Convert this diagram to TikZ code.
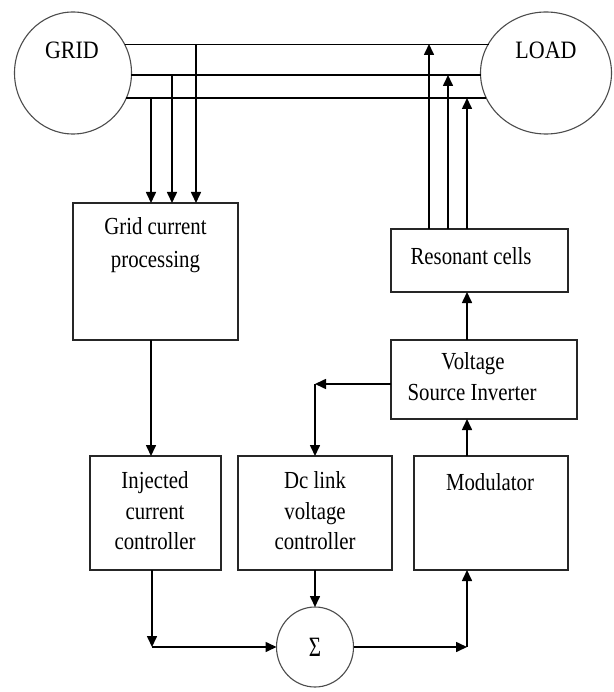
\documentclass[tikz,border=0pt]{standalone}
\usepackage{fontspec}
\setmainfont{Liberation Serif}
\usetikzlibrary{arrows.meta,shapes.geometric}
\begin{document}
\begin{tikzpicture}[x=1pt,y=-1pt,
  conn/.style={line width=1.6pt,-{Triangle[length=11pt,width=10pt]}},
  wire/.style={line width=1.6pt},
  blk/.style={draw=black!85,line width=1.8pt,rectangle,inner sep=0pt,outer sep=0pt},
  src/.style={draw=black!70,line width=1.1pt,ellipse,inner sep=0pt,outer sep=0pt},
  txt/.style={font=\fontsize{24.5}{30}\selectfont,anchor=base,inner sep=0pt,xscale=0.85},
  bigtxt/.style={font=\fontsize{25}{30}\selectfont,anchor=base,inner sep=0pt,xscale=0.88},
  sumtxt/.style={font=\fontsize{28}{30}\selectfont,anchor=base,inner sep=0pt,xscale=0.75}]
\fill[white] (0,0) rectangle (613,692);
% sources
\node[src,minimum width=117pt,minimum height=122pt] (grid) at (73,73) {};
\node[src,minimum width=131pt,minimum height=122pt] (load) at (546,73) {};
\node[bigtxt] (gridt) at (72,59) {GRID};
\node[bigtxt] (loadt) at (546,59) {LOAD};
% blocks
\node[blk,minimum width=165pt,minimum height=137pt] (gcp) at (155.5,271.5) {};
\node[blk,minimum width=177pt,minimum height=63pt] (res) at (479.5,260.5) {};
\node[blk,minimum width=186pt,minimum height=79pt] (vsi) at (484,379.5) {};
\node[blk,minimum width=131pt,minimum height=114pt] (inj) at (155.5,513) {};
\node[blk,minimum width=154pt,minimum height=114pt] (dcl) at (315,513) {};
\node[blk,minimum width=154pt,minimum height=114pt] (mod) at (491,513) {};
\node[src,minimum width=77pt,minimum height=80pt] (sum) at (315,647) {};
% texts
\node[txt] (gcp1) at (155.5,235) {Grid current};
\node[txt] (gcp2) at (155.5,267) {processing};
\node[txt] (res1) at (471,265) {Resonant cells};
\node[txt] (vsi1) at (473,369) {Voltage};
\node[txt] (vsi2) at (472,400) {Source Inverter};
\node[txt] (inj1) at (155,488) {Injected};
\node[txt] (inj2) at (155,519) {current};
\node[txt] (inj3) at (155,549) {controller};
\node[txt] (dcl1) at (315,488) {Dc link};
\node[txt] (dcl2) at (315,519) {voltage};
\node[txt] (dcl3) at (315,549) {controller};
\node[txt] (mod1) at (490,490) {Modulator};
\node[sumtxt] (sumt) at (315,656) {Σ};
% three-phase lines
\draw[wire] (grid.29.4) -- (grid.29.4 -| load.153.3);
\draw[wire] (grid.-2) -- (grid.-2 -| load.181.7);
\draw[wire] (grid.-25.1) -- (grid.-25.1 -| load.202.7);
% measurement taps
\coordinate (ta) at (196,44);
\coordinate (tb) at (172,75);
\coordinate (tc) at (151,98);
\draw[conn] (ta) -- (ta |- gcp.north);
\draw[conn] (tb) -- (tb |- gcp.north);
\draw[conn] (tc) -- (tc |- gcp.north);
% injection
\coordinate (ua) at (429,44);
\coordinate (ub) at (448,75);
\coordinate (uc) at (467,98);
\draw[conn] (ua |- res.north) -- (ua);
\draw[conn] (ub |- res.north) -- (ub);
\draw[conn] (uc |- res.north) -- (uc);
% control path
\draw[conn] (tc |- gcp.south) -- (tc |- inj.north);
\coordinate (c1) at (315,384);
\draw[conn] (vsi.west |- c1) -- (c1);
\draw[conn] (c1) -- (dcl.north);
\coordinate (c2) at (152,647);
\draw[conn] (inj.south -| c2) -- (c2);
\draw[conn] (c2) -- (sum.west);
\draw[conn] (dcl.south) -- (sum.north);
\coordinate (c3) at (467,647);
\draw[conn] (sum.east) -- (c3);
\draw[conn] (c3) -- (c3 |- mod.south);
\draw[conn] (c3 |- mod.north) -- (c3 |- vsi.south);
\draw[conn] (c3 |- vsi.north) -- (c3 |- res.south);
\end{tikzpicture}
\end{document}
